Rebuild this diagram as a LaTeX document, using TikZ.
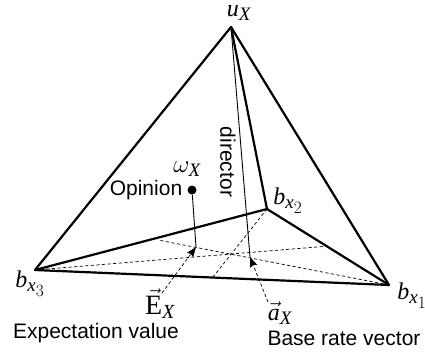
\documentclass[tikz,border=0pt]{standalone}
\usepackage{amsmath}
\usepackage{fontspec}
\setmainfont{Liberation Serif}
\setsansfont{Liberation Sans}
\usetikzlibrary{arrows.meta}
\DeclareMathSizes{24}{24}{19}{16}
\DeclareMathSizes{28}{28}{20}{16}
\newcommand{\vit}[1]{\text{\rmfamily\itshape #1}}
\tikzset{
  edge/.style={line width=2.2pt,line join=round},
  thinline/.style={line width=.9pt},
  dashline/.style={line width=.7pt,dash pattern=on 3.2pt off 2.4pt},
  tiparrow/.style={dashline,-{Stealth[length=10pt,width=7.5pt,inset=1.5pt]}},
  mathlabel/.style={font=\fontsize{24}{26}\selectfont,inner sep=0pt},
  textlabel/.style={font=\sffamily\fontsize{21}{24}\selectfont,inner sep=0pt}
}
\begin{document}
\begin{tikzpicture}[x=1pt,y=-1pt]
\useasboundingbox (0,0) rectangle (425,356);
\coordinate (ux) at (231,27);
\coordinate (bx1) at (389,285);
\coordinate (bx2) at (267,209);
\coordinate (bx3) at (35,270);
\coordinate (ex) at (196,247);
\coordinate (ax) at (250,257);
\coordinate (d1) at (323,246.5);
\coordinate (d2) at (158,240);
\coordinate (d3) at (213,277);
\coordinate (etail) at (162,293);
\coordinate (atail) at (268,302);
% faces of the tetrahedron
\draw[edge] (ux) -- (bx3) -- (bx1) -- cycle;
\draw[edge] (ux) -- (bx2) -- (bx3);
\draw[edge] (bx2) -- (bx1);
% medians of the base
\draw[dashline] (bx3) -- (d1);
\draw[dashline] (bx1) -- (d2);
\draw[dashline] (bx2) -- (d3);
\draw[thinline] (ux) -- (ax);
\node[circle,fill=black,inner sep=0pt,minimum size=9pt] (op) at (192,190) {};
\draw[thinline] (op) -- (ex);
\draw[tiparrow] (etail) -- (ex);
\draw[tiparrow] (atail) -- (ax);
% labels
\node[mathlabel] (lu) at (239,13) {$\vit{u}_{\vit{X}}$};
\node[mathlabel] (lb2) at (288,201) {$\vit{b}_{\vit{x}_{2}}$};
\node[mathlabel] (lb3) at (30,284) {$\vit{b}_{\vit{x}_{3}}$};
\node[mathlabel] (lb1) at (412,296) {$\vit{b}_{\vit{x}_{1}}$};
\node[mathlabel] (lo) at (187,169) {$\omega_{\vit{X}}$};
\node[mathlabel,font=\fontsize{28}{30}\selectfont] (le) at (160,304) {$\vec{\text{E}}_{\vit{X}}$};
\node[mathlabel] (la) at (280,313) {$\vec{\vit{a}}_{\vit{X}}$};
\node[textlabel] (lop) at (146,190) {Opinion};
\node[textlabel,rotate=-90] (ldir) at (228,162) {director};
\node[textlabel] (lev) at (96,333) {Expectation value};
\node[textlabel] (lbr) at (344,338) {Base rate vector};
\end{tikzpicture}
\end{document}
